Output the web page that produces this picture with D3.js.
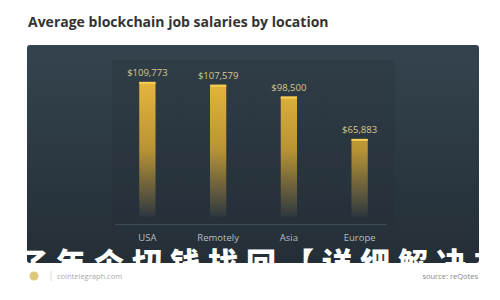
<!DOCTYPE html>
<html>
<head>
<meta charset="utf-8">
<script src="https://cdn.jsdelivr.net/npm/d3@7"></script>
<style>
  html, body { margin: 0; padding: 0; background: #fff; }
  svg { display: block; font-family: "Open Sans", sans-serif; }
</style>
</head>
<body>
<svg id="viz"></svg>
<script>
// ----------------------------------------------------------------------------------------------------------------
// DATA

var locations = ["USA", "Remotely", "Asia", "Europe"];
var salaries = [109773, 107579, 98500, 65883];
var salaryLabels = ["$109,773", "$107,579", "$98,500", "$65,883"];

// ----------------------------------------------------------------------------------------------------------------
// SETUP

var w = 500;
var h = 300;
var viz = d3.select("#viz").attr("width", w).attr("height", h);
var defs = viz.append("defs");

var panelGrad = defs.append("linearGradient").attr("id", "panelGrad")
  .attr("x1", 0).attr("y1", 0).attr("x2", 0).attr("y2", 1);
panelGrad.append("stop").attr("offset", "0%").attr("stop-color", "#34444e");
panelGrad.append("stop").attr("offset", "100%").attr("stop-color", "#242e36");

var barGrad = defs.append("linearGradient").attr("id", "barGrad")
  .attr("gradientUnits", "userSpaceOnUse")
  .attr("x1", 0).attr("y1", 80).attr("x2", 0).attr("y2", 218);
barGrad.append("stop").attr("offset", "0%").attr("stop-color", "#e6b73c");
barGrad.append("stop").attr("offset", "50%").attr("stop-color", "#b99435");
barGrad.append("stop").attr("offset", "100%").attr("stop-color", "#2c3640");

// the watermark only shows over the dark panel
defs.append("clipPath").attr("id", "panelClip")
  .append("rect").attr("x", 27).attr("y", 45).attr("width", 452).attr("height", 218);

// title
viz.append("text")
  .attr("x", 28).attr("y", 27)
  .attr("font-size", 14).attr("font-weight", 700)
  .attr("fill", "#333")
  .text("Average blockchain job salaries by location");

// dark panel
viz.append("rect")
  .attr("x", 27).attr("y", 45).attr("width", 452).attr("height", 218)
  .attr("rx", 3).attr("fill", "url(#panelGrad)");

// ----------------------------------------------------------------------------------------------------------------
// SCALES

var x = d3.scaleBand().domain(locations).range([112, 395])
  .paddingInner(0.77).paddingOuter(0.385);
var y = d3.scaleLinear().domain([0, 120000]).range([224.5, 68.6]);

var data = locations.map(function(d, i) {
  return {name: d, value: salaries[i], label: salaryLabels[i]};
});

// faint column bands behind the bars
viz.selectAll("rect.band")
  .data(data)
  .enter()
  .append("rect")
  .attr("class", "band")
  .attr("x", function(d) { return x(d.name) - x.step() * 0.385; })
  .attr("y", 60)
  .attr("width", x.step() * 0.77 + x.bandwidth())
  .attr("height", y(0) - 60)
  .attr("fill", "#1f2931")
  .attr("opacity", 0.18);

// base line
viz.append("line")
  .attr("x1", 115).attr("x2", 387)
  .attr("y1", y(0)).attr("y2", y(0))
  .attr("stroke", "#3d4b56").attr("stroke-width", 1);

// ----------------------------------------------------------------------------------------------------------------
// BARS

viz.selectAll("rect.bar")
  .data(data)
  .enter()
  .append("rect")
  .attr("class", "bar")
  .attr("x", function(d) { return x(d.name); })
  .attr("y", function(d) { return y(d.value); })
  .attr("width", x.bandwidth())
  .attr("height", function(d) { return y(0) - 8 - y(d.value); })
  .attr("fill", "url(#barGrad)");

// bright cap
viz.selectAll("rect.cap")
  .data(data)
  .enter()
  .append("rect")
  .attr("class", "cap")
  .attr("x", function(d) { return x(d.name); })
  .attr("y", function(d) { return y(d.value); })
  .attr("width", x.bandwidth())
  .attr("height", 2)
  .attr("fill", "#f6cf52");

// value labels
viz.selectAll("text.value")
  .data(data)
  .enter()
  .append("text")
  .attr("class", "value")
  .attr("x", function(d) { return x(d.name) + x.bandwidth() / 2; })
  .attr("y", function(d) { return y(d.value) - 6; })
  .attr("text-anchor", "middle")
  .attr("font-size", 9.5)
  .attr("fill", "#d8c98c")
  .text(function(d) { return d.label; });

// category labels
viz.selectAll("text.name")
  .data(data)
  .enter()
  .append("text")
  .attr("class", "name")
  .attr("x", function(d) { return x(d.name) + x.bandwidth() / 2; })
  .attr("y", 241)
  .attr("text-anchor", "middle")
  .attr("font-size", 9.5)
  .attr("fill", "#b4bec5")
  .text(function(d) { return d.name; });

// ----------------------------------------------------------------------------------------------------------------
// OVERLAY + FOOTER

viz.append("text")
  .attr("x", 18).attr("y", 274)
  .attr("clip-path", "url(#panelClip)")
  .attr("font-size", 30).attr("font-weight", 900)
  .attr("font-family", "'Noto Sans CJK SC', sans-serif")
  .attr("letter-spacing", 8)
  .attr("fill", "#fff")
  .text("了年个切钱找回【详细解决方");

viz.append("circle").attr("cx", 34).attr("cy", 276).attr("r", 4.5).attr("fill", "#e0c87a");
viz.append("line").attr("x1", 51).attr("x2", 51).attr("y1", 271).attr("y2", 281)
  .attr("stroke", "#ddd").attr("stroke-width", 1);
viz.append("text")
  .attr("x", 57).attr("y", 279)
  .attr("font-size", 7.5).attr("fill", "#aaa")
  .text("cointelegraph.com");

viz.append("text")
  .attr("x", 478).attr("y", 279)
  .attr("text-anchor", "end")
  .attr("font-size", 7.5)
  .attr("fill", "#888")
  .text("source: reQotes");
</script>
</body>
</html>
